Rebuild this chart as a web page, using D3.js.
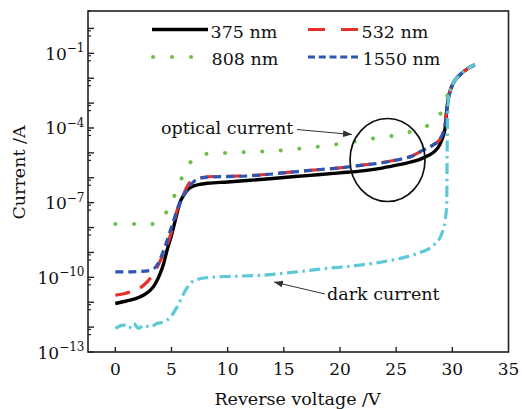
<!DOCTYPE html>
<html><head><meta charset="utf-8">
<script src="https://cdn.jsdelivr.net/npm/d3@7"></script>
<style>body{margin:0;background:#fff}svg{display:block}text{font-family:"DejaVu Serif",serif;fill:#111}</style>
</head><body><svg id="c" width="522" height="409"></svg>
<script>
// ---- data (reverse voltage in V, current in A) ----
const volt375 = [0,1,2,2.5,3.1,3.5,3.85,4.3,4.6,5.04,5.4,5.78,6.1,6.5,7.0,7.5,8.2,10,12,14,16,18,20,22,23.6,25,26,27,27.8,28.4,28.9,29.2,29.36,29.5,29.65,30.1,30.7,31.4,32];
const cur375  = [8.9e-12,1.12e-11,1.5e-11,1.9e-11,3.0e-11,5.0e-11,1.0e-10,3.5e-10,1.2e-9,5.6e-9,2.5e-8,1.1e-7,2.0e-7,3.5e-7,4.7e-7,5.4e-7,6.0e-7,6.8e-7,7.9e-7,9.3e-7,1.12e-6,1.32e-6,1.58e-6,1.9e-6,2.4e-6,3.2e-6,4.0e-6,5.2e-6,7.6e-6,1.12e-5,2.2e-5,5.0e-5,1.0e-4,5.0e-4,1.6e-3,6.5e-3,1.4e-2,2.5e-2,3.5e-2];
const volt532 = [0,1.33,2.52,3.4,4.15,5.04,5.5,6.08,6.6,7.27,8.2,10,11.7,14,16.2,18,20,21.2,23,25,26.5,27.4,28.3,28.9,29.2,29.36,29.5,29.65,30.1,30.7,31.4,32];
const cur532  = [1.9e-11,2.6e-11,4.8e-11,1.4e-10,6.5e-10,7.6e-9,5.0e-8,2.2e-7,6.3e-7,8.9e-7,1.1e-6,1.15e-6,1.2e-6,1.45e-6,1.8e-6,2.1e-6,2.5e-6,2.95e-6,3.7e-6,5.2e-6,7.9e-6,1.3e-5,2.1e-5,3.5e-5,7.1e-5,1.26e-4,5.0e-4,1.6e-3,6.5e-3,1.4e-2,2.5e-2,3.5e-2];
const volt808 = [0,1.5,3.4,4.0,4.6,5.19,5.93,6.67,7.5,8.3,9.9,12,14.1,17.1,20,23,24.8,26.5,27.9,29.06,29.65,30.1,30.7,31.4,32];
const cur808  = [1.4e-8,1.4e-8,1.4e-8,2.0e-8,4.5e-8,1.6e-7,1.0e-6,4.1e-6,7.9e-6,9.3e-6,1.0e-5,1.1e-5,1.2e-5,1.6e-5,2.3e-5,3.8e-5,5.0e-5,7.6e-5,1.35e-4,4.8e-4,2.5e-3,6.5e-3,1.4e-2,2.5e-2,3.5e-2];
const volt1550 = [0,1,2,3.1,3.7,4.3,4.9,5.5,6.38,7.0,7.5,8.2,10,11.7,14,16.2,18,20,21.2,23,25,26.5,27.4,28.3,28.9,29.2,29.36,29.5,29.65,30.1,30.7,31.4,32];
const cur1550  = [1.66e-10,1.66e-10,1.7e-10,1.9e-10,3.0e-10,1.2e-9,7.6e-9,5.0e-8,3.2e-7,7.1e-7,9.3e-7,1.07e-6,1.12e-6,1.18e-6,1.42e-6,1.78e-6,2.1e-6,2.5e-6,2.9e-6,3.6e-6,5.1e-6,7.7e-6,1.28e-5,2.1e-5,3.5e-5,7.1e-5,1.26e-4,5.0e-4,1.6e-3,6.5e-3,1.4e-2,2.5e-2,3.5e-2];
const voltDark = [0,0.74,1.19,1.63,2.07,2.52,3.1,3.7,4.3,4.9,5.5,6.08,6.67,7.27,8.45,10.5,12.9,15.3,18.5,21.5,24.5,26.8,28.3,29.06,29.36,29.5,29.55,29.65,30.1,30.7,31.4,32];
const curDark  = [8.9e-13,1.2e-12,8.9e-13,1.4e-12,8.9e-13,1.2e-12,1.0e-12,1.4e-12,1.6e-12,2.5e-12,6.5e-12,2.2e-11,5.6e-11,8.1e-11,1.0e-10,1.1e-10,1.2e-10,1.5e-10,2.2e-10,3.0e-10,4.8e-10,8.9e-10,1.9e-9,5.6e-9,1.9e-8,8.9e-8,4.0e-5,1.6e-3,6.5e-3,1.4e-2,2.5e-2,3.5e-2];

const seriesNames = ["375 nm","532 nm","808 nm","1550 nm"];
const xTickValues = [0,5,10,15,20,25,30,35];
const yMajorTicks = [1e-13,1e-12,1e-11,1e-10,1e-9,1e-8,1e-7,1e-6,1e-5,1e-4,1e-3,1e-2,1e-1,1e0];
const yMinorTicks = [5e-13,8e-13,5e-12,8e-12,5e-11,8e-11,5e-10,8e-10,5e-9,8e-9,5e-8,8e-8,5e-7,8e-7,5e-6,8e-6,5e-5,8e-5,5e-4,8e-4,5e-3,8e-3,5e-2,8e-2,5e-1,8e-1,5e0];
const yLabelBase = ["10","10","10","10","10"];
const yLabelExp = ["−13","−10","−7","−4","−1"];
const yLabelValues = [1e-13,1e-10,1e-7,1e-4,1e-1];

// ---- chart ----
const svg = d3.select('#c');
const L=88, R=508.5, T=11, B=352;
const FS=17.5;
const x = d3.scaleLinear().domain([-2.43,35]).range([L,R]);
const y = d3.scaleLog().domain([1e-13,5.012]).range([B,T]);

const defs = svg.append('defs');
defs.append('marker').attr('id','arr').attr('markerUnits','userSpaceOnUse')
  .attr('markerWidth',9).attr('markerHeight',7).attr('refX',9).attr('refY',3.5).attr('orient','auto')
  .append('path').attr('d','M0,0 L9,3.5 L0,7 Z').attr('fill','#333');

// ticks
svg.append('g').selectAll('line').data(xTickValues.filter(v=>v<35)).join('line')
  .attr('x1',d=>x(d)).attr('x2',d=>x(d)).attr('y1',B).attr('y2',B-5)
  .attr('stroke','#222').attr('stroke-width',1.4);
svg.append('g').selectAll('text').data(xTickValues).join('text')
  .attr('x',d=>x(d)).attr('y',374.5).attr('text-anchor','middle').attr('font-size',17).text(d=>d);
svg.append('g').selectAll('line').data(yMajorTicks).join('line')
  .attr('x1',L).attr('x2',L+6).attr('y1',d=>y(d)).attr('y2',d=>y(d))
  .attr('stroke','#222').attr('stroke-width',1.4);
svg.append('g').selectAll('line').data(yMinorTicks).join('line')
  .attr('x1',L).attr('x2',L+3).attr('y1',d=>y(d)).attr('y2',d=>y(d))
  .attr('stroke','#222').attr('stroke-width',1.2);
const yl = svg.append('g').selectAll('text').data(yLabelValues).join('text')
  .attr('x',84.5).attr('y',d=>y(d)+6.5).attr('text-anchor','end').attr('font-size',17);
yl.append('tspan').text((d,i)=>yLabelBase[i]);
yl.append('tspan').attr('dy',-7.5).attr('font-size',12).text((d,i)=>yLabelExp[i]);

// axis titles
svg.append('text').attr('x',297.5).attr('y',404.5).attr('text-anchor','middle').attr('font-size',FS).text('Reverse voltage /V');
svg.append('text').attr('transform','translate(25,172.5) rotate(-90)').attr('text-anchor','middle').attr('font-size',FS).text('Current /A');

// curves
const line = d3.line().x(d=>x(d[0])).y(d=>y(d[1])).curve(d3.curveMonotoneX);
const zip = (a,b)=>a.map((v,i)=>[v,b[i]]);
const styles = [
  {v:volt375,c:cur375,col:'#000000',w:3.4,dash:null},
  {v:volt532,c:cur532,col:'#e8302a',w:3.2,dash:'15,11'},
  {v:volt1550,c:cur1550,col:'#2d55b3',w:3.2,dash:'8,5'},
  {v:volt808,c:cur808,col:'#6cc04a',w:4,dash:'0.1,18.5',cap:'round'},
  {v:voltDark,c:curDark,col:'#5cc8d8',w:3.2,dash:'11,4.5,2.5,4.5'}
];
styles.forEach(s=>{
  svg.append('path').attr('d',line(zip(s.v,s.c))).attr('fill','none')
    .attr('stroke',s.col).attr('stroke-width',s.w)
    .attr('stroke-dasharray',s.dash).attr('stroke-linecap',s.cap||'butt');
});

// frame
svg.append('rect').attr('x',L).attr('y',T).attr('width',R-L).attr('height',B-T)
  .attr('fill','none').attr('stroke','#222').attr('stroke-width',1.6);

// legend
const lg = svg.append('g');
lg.append('line').attr('x1',152).attr('x2',208).attr('y1',29.5).attr('y2',29.5).attr('stroke','#000').attr('stroke-width',3.4);
lg.append('line').attr('x1',308).attr('x2',358).attr('y1',29.5).attr('y2',29.5).attr('stroke','#e8302a').attr('stroke-width',3.2).attr('stroke-dasharray','17,16');
lg.append('line').attr('x1',153).attr('x2',192).attr('y1',57).attr('y2',57).attr('stroke','#6cc04a').attr('stroke-width',4).attr('stroke-linecap','round').attr('stroke-dasharray','0.1,18.9');
lg.append('line').attr('x1',308).attr('x2',358).attr('y1',57).attr('y2',57).attr('stroke','#2d55b3').attr('stroke-width',3.2).attr('stroke-dasharray','7,3.75');
const lpos = [[210.5,38],[361.5,38],[211.5,64.5],[362.5,64.5]];
seriesNames.forEach((n,i)=>lg.append('text').attr('x',lpos[i][0]).attr('y',lpos[i][1]).attr('font-size',FS).text(n));

// annotations
svg.append('ellipse').attr('cx',387.5).attr('cy',160).attr('rx',37.5).attr('ry',41.5)
  .attr('fill','none').attr('stroke','#111').attr('stroke-width',1.7);
svg.append('text').attr('x',161).attr('y',134).attr('font-size',FS).text('optical current');
svg.append('line').attr('x1',297).attr('y1',129.5).attr('x2',352).attr('y2',134.5)
  .attr('stroke','#333').attr('stroke-width',1).attr('marker-end','url(#arr)');
svg.append('text').attr('x',327).attr('y',300).attr('font-size',FS).text('dark current');
svg.append('line').attr('x1',325).attr('y1',294).attr('x2',274).attr('y2',282)
  .attr('stroke','#333').attr('stroke-width',1).attr('marker-end','url(#arr)');
</script></body></html>
